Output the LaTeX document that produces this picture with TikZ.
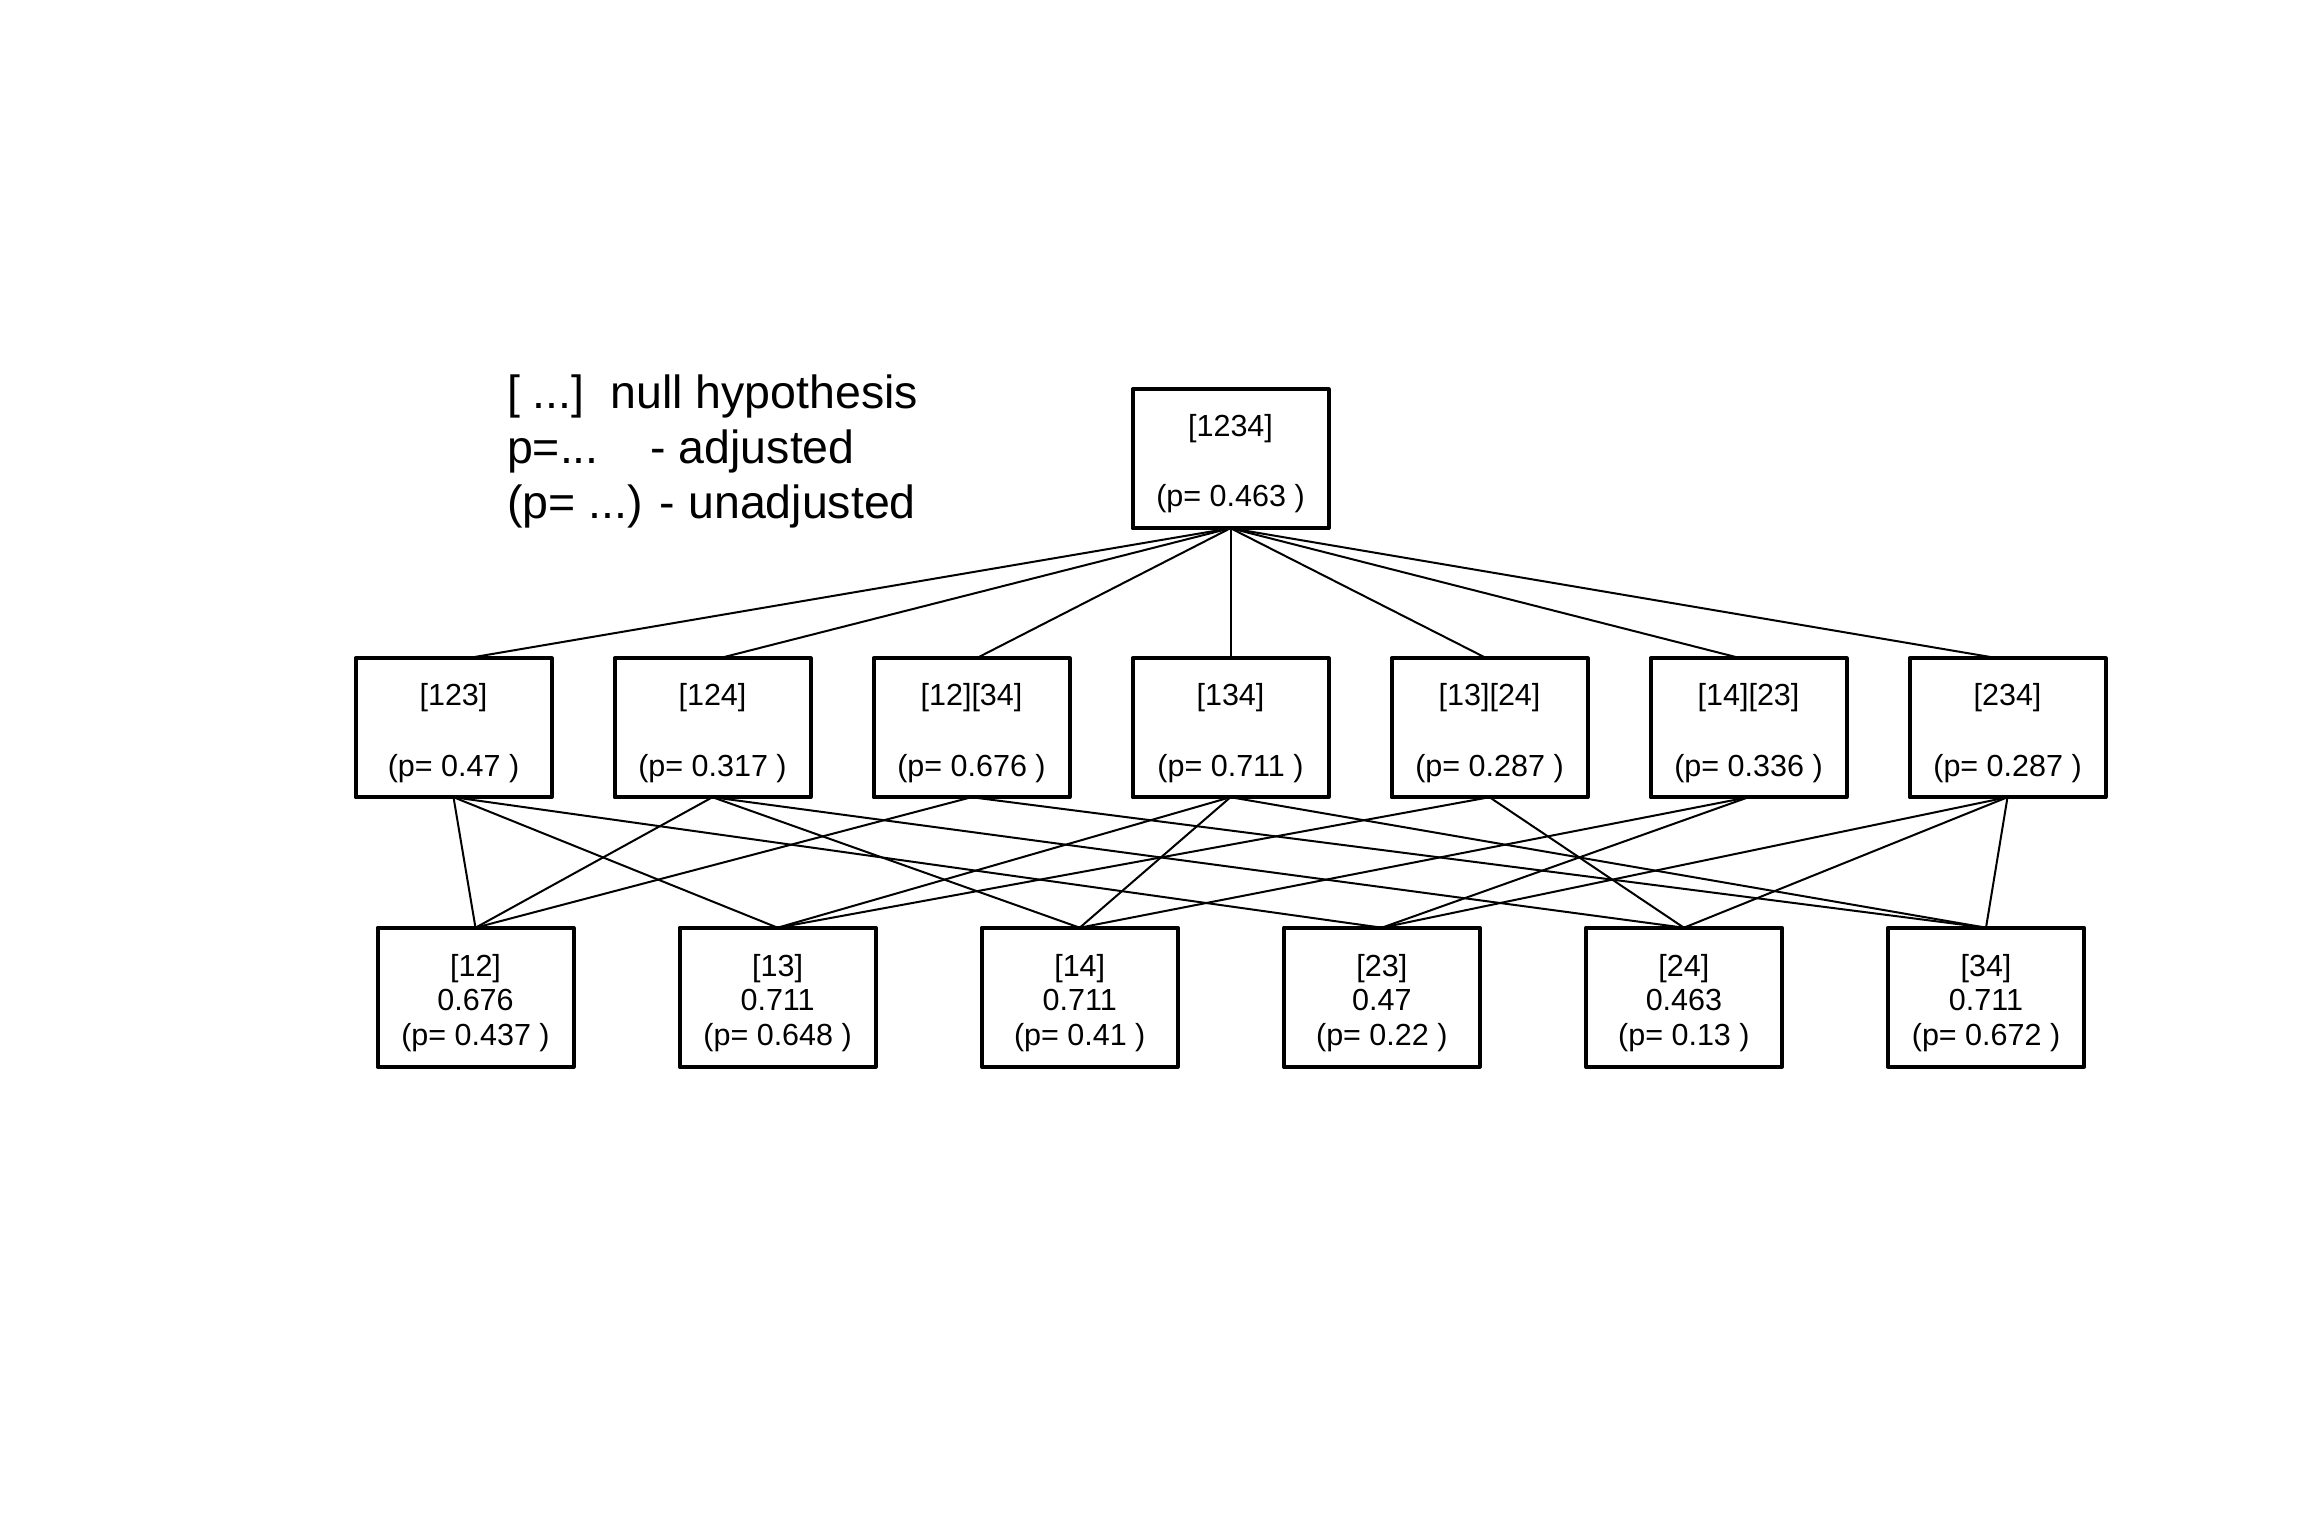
\documentclass[tikz,border=0pt]{standalone}
\usepackage{fontspec}
\setmainfont{Liberation Sans}
\usetikzlibrary{calc}
\begin{document}
\begin{tikzpicture}[x=1pt,y=-1pt,
  box/.style={draw, line width=4pt, line join=round, fill=white, minimum width=196pt, minimum height=139pt, inner sep=0pt, outer sep=0pt},
  lbl/.style={anchor=base, inner sep=0pt, outer sep=0pt, font=\fontsize{30.5}{36}\selectfont},
  leg/.style={anchor=base west, inner sep=0pt, outer sep=0pt, font=\fontsize{46.5}{55}\selectfont},
  edge/.style={line width=2pt}]
\useasboundingbox (0,0) rectangle (2304,1536);

% legend
\node[leg] (leg1) at (507,408) {[ ...]\ \ null hypothesis};
\node[leg] (leg2) at (507,463) {p=...\ \ \ \ - adjusted};
\node[leg] (leg3) at (507,518) {(p= ...) - unadjusted};

% top
\node[box] (t) at (1230.5,458.7) {};
% middle
\node[box] (m1) at (453.5,727.7) {};
\node[box] (m2) at (712.5,727.7) {};
\node[box] (m3) at (971.5,727.7) {};
\node[box] (m4) at (1230.5,727.7) {};
\node[box] (m5) at (1489.5,727.7) {};
\node[box] (m6) at (1748.5,727.7) {};
\node[box] (m7) at (2007.5,727.7) {};
% bottom
\node[box] (b12) at (475.5,997.2) {};
\node[box] (b13) at (777.6,997.2) {};
\node[box] (b14) at (1079.7,997.2) {};
\node[box] (b23) at (1381.8,997.2) {};
\node[box] (b24) at (1683.9,997.2) {};
\node[box] (b34) at (1986,997.2) {};

% edges top -> middle
\draw[edge] (t.south) -- ([xshift=14pt]m1.north);
\draw[edge] (t.south) -- ([xshift=7pt]m2.north);
\draw[edge] (t.south) -- ([xshift=5pt]m3.north);
\draw[edge] (t.south) -- (m4.north);
\draw[edge] (t.south) -- ([xshift=-3pt]m5.north);
\draw[edge] (t.south) -- ([xshift=-8pt]m6.north);
\draw[edge] (t.south) -- ([xshift=-10pt]m7.north);

% edges middle -> bottom
\draw[edge] (m1.south) -- (b12.north);
\draw[edge] (m1.south) -- (b13.north);
\draw[edge] (m1.south) -- (b23.north);
\draw[edge] (m2.south) -- (b12.north);
\draw[edge] (m2.south) -- (b14.north);
\draw[edge] (m2.south) -- (b24.north);
\draw[edge] (m3.south) -- (b12.north);
\draw[edge] (m3.south) -- (b34.north);
\draw[edge] (m4.south) -- (b13.north);
\draw[edge] (m4.south) -- (b14.north);
\draw[edge] (m4.south) -- (b34.north);
\draw[edge] (m5.south) -- (b13.north);
\draw[edge] (m5.south) -- (b24.north);
\draw[edge] (m6.south) -- (b14.north);
\draw[edge] (m6.south) -- (b23.north);
\draw[edge] (m7.south) -- (b23.north);
\draw[edge] (m7.south) -- (b24.north);
\draw[edge] (m7.south) -- (b34.north);

% texts top
\node[lbl] (t-a) at ($(t)+(0,-22)$) {[1234]};
\node[lbl] (t-b) at ($(t)+(0,48)$) {(p= 0.463 )};
% texts middle
\node[lbl] (m1-a) at ($(m1)+(0,-22.7)$) {[123]};
\node[lbl] (m1-b) at ($(m1)+(0,49)$) {(p= 0.47 )};
\node[lbl] (m2-a) at ($(m2)+(0,-22.7)$) {[124]};
\node[lbl] (m2-b) at ($(m2)+(0,49)$) {(p= 0.317 )};
\node[lbl] (m3-a) at ($(m3)+(0,-22.7)$) {[12][34]};
\node[lbl] (m3-b) at ($(m3)+(0,49)$) {(p= 0.676 )};
\node[lbl] (m4-a) at ($(m4)+(0,-22.7)$) {[134]};
\node[lbl] (m4-b) at ($(m4)+(0,49)$) {(p= 0.711 )};
\node[lbl] (m5-a) at ($(m5)+(0,-22.7)$) {[13][24]};
\node[lbl] (m5-b) at ($(m5)+(0,49)$) {(p= 0.287 )};
\node[lbl] (m6-a) at ($(m6)+(0,-22.7)$) {[14][23]};
\node[lbl] (m6-b) at ($(m6)+(0,49)$) {(p= 0.336 )};
\node[lbl] (m7-a) at ($(m7)+(0,-22.7)$) {[234]};
\node[lbl] (m7-b) at ($(m7)+(0,49)$) {(p= 0.287 )};
% texts bottom
\node[lbl] (b12-a) at ($(b12)+(0,-20.5)$) {[12]};
\node[lbl] (b12-b) at ($(b12)+(0,12.8)$) {0.676};
\node[lbl] (b12-c) at ($(b12)+(0,47.8)$) {(p= 0.437 )};
\node[lbl] (b13-a) at ($(b13)+(0,-20.5)$) {[13]};
\node[lbl] (b13-b) at ($(b13)+(0,12.8)$) {0.711};
\node[lbl] (b13-c) at ($(b13)+(0,47.8)$) {(p= 0.648 )};
\node[lbl] (b14-a) at ($(b14)+(0,-20.5)$) {[14]};
\node[lbl] (b14-b) at ($(b14)+(0,12.8)$) {0.711};
\node[lbl] (b14-c) at ($(b14)+(0,47.8)$) {(p= 0.41 )};
\node[lbl] (b23-a) at ($(b23)+(0,-20.5)$) {[23]};
\node[lbl] (b23-b) at ($(b23)+(0,12.8)$) {0.47};
\node[lbl] (b23-c) at ($(b23)+(0,47.8)$) {(p= 0.22 )};
\node[lbl] (b24-a) at ($(b24)+(0,-20.5)$) {[24]};
\node[lbl] (b24-b) at ($(b24)+(0,12.8)$) {0.463};
\node[lbl] (b24-c) at ($(b24)+(0,47.8)$) {(p= 0.13 )};
\node[lbl] (b34-a) at ($(b34)+(0,-20.5)$) {[34]};
\node[lbl] (b34-b) at ($(b34)+(0,12.8)$) {0.711};
\node[lbl] (b34-c) at ($(b34)+(0,47.8)$) {(p= 0.672 )};
\end{tikzpicture}
\end{document}
